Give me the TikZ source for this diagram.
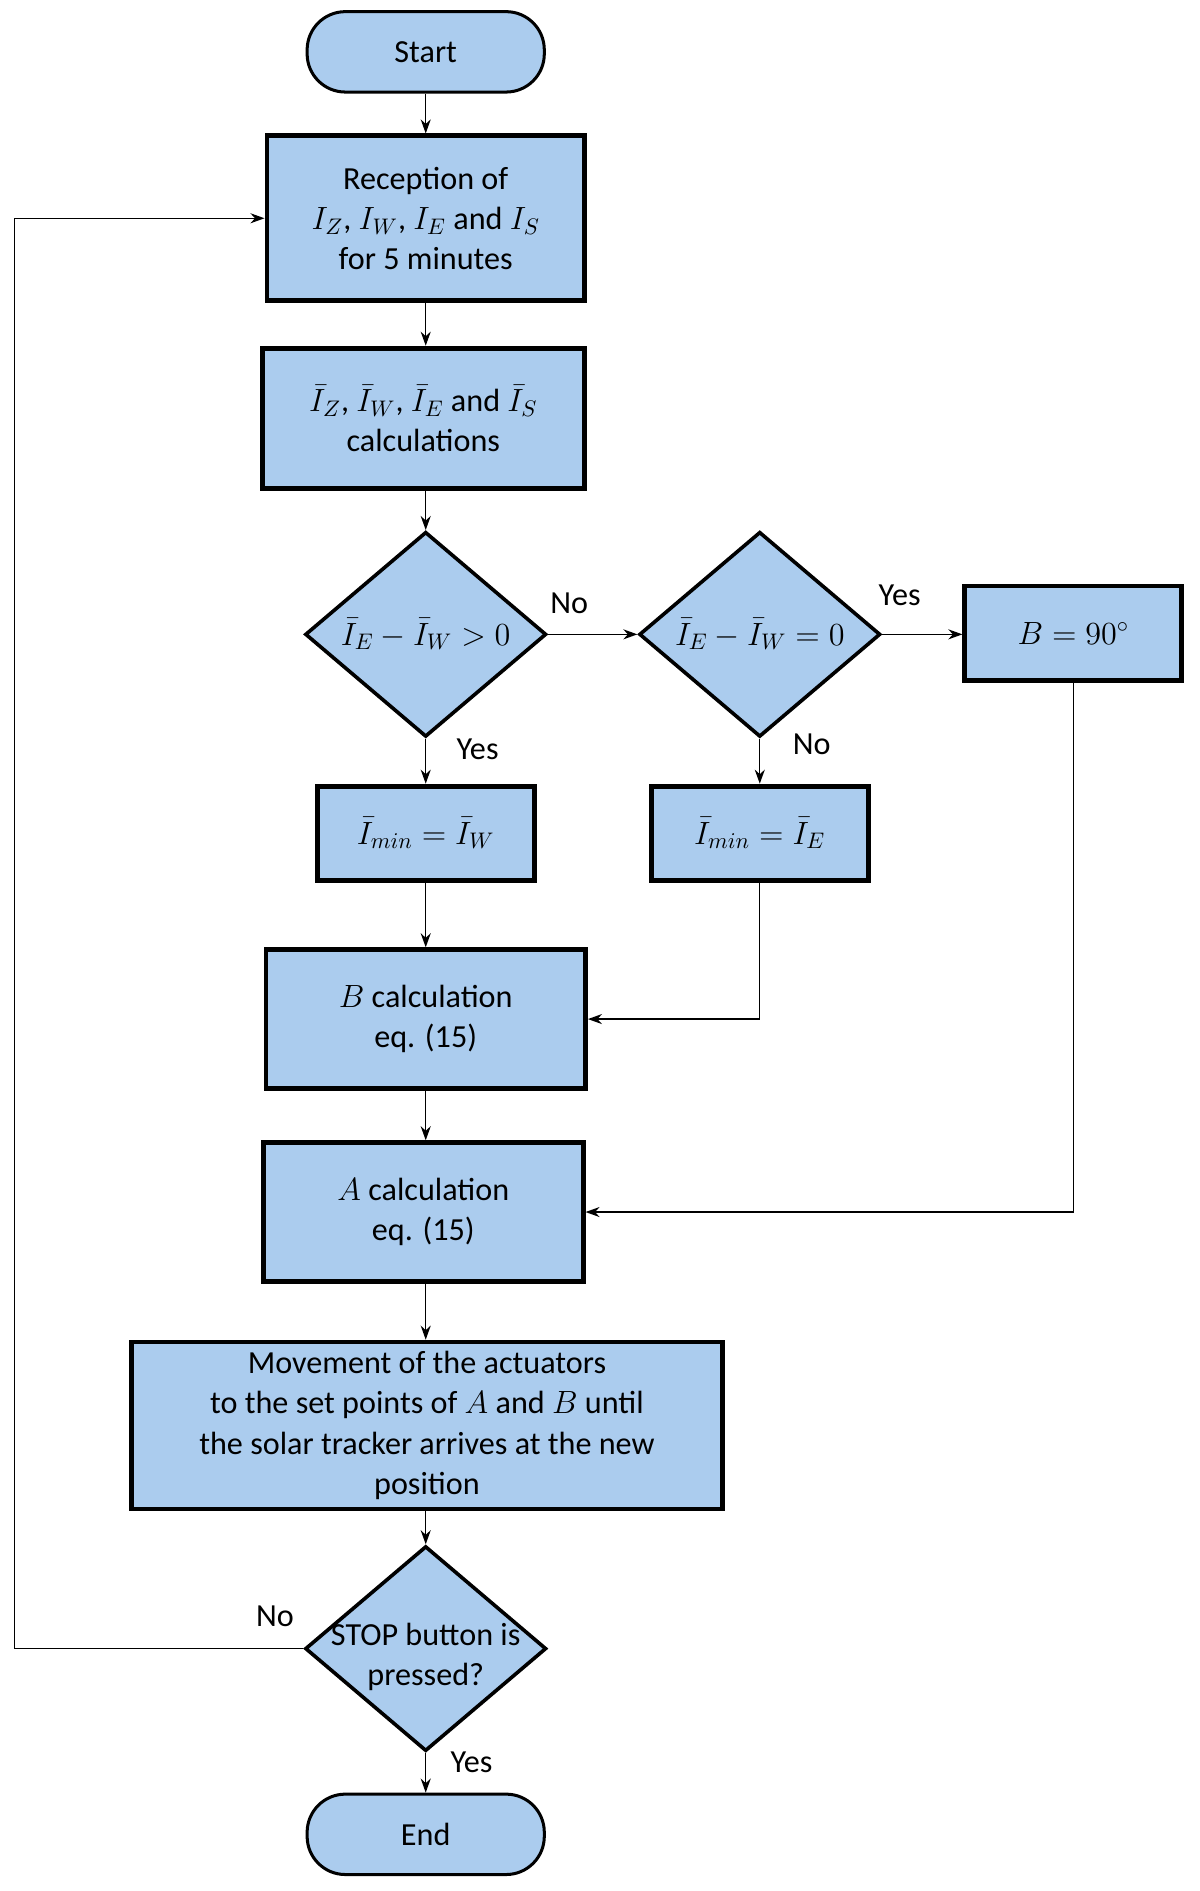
\documentclass[tikz,border=0pt]{standalone}
\usepackage{fix-cm}
\usepackage[no-math]{fontspec}
\setmainfont{Carlito}
\usetikzlibrary{shapes.geometric,arrows.meta}
\definecolor{boxblue}{RGB}{171,204,238}
\begin{document}
\begin{tikzpicture}[x=0.6pt,y=-0.6pt,
  font=\fontsize{16}{20}\selectfont,
  term/.style={draw, line width=1.5pt, fill=boxblue, rounded corners=19pt, minimum width=118pt, minimum height=40pt, inner sep=0pt},
  proc/.style={draw, line width=2.4pt, fill=boxblue, align=center, inner sep=0pt},
  dec/.style={draw, diamond, line width=1.8pt, fill=boxblue, minimum width=120pt, minimum height=102pt, inner sep=0pt},
  conn/.style={-{Stealth[length=7pt,width=5pt]}, line width=0.7pt},
  lbl/.style={inner sep=0pt}]
\useasboundingbox (0,0) rectangle (995,1568);

\node[term] (start) at (353,43) {Start};
\node[proc, minimum width=158pt, minimum height=82pt] (rec) at (353,181)
  {Reception of\\ $I_Z$, $I_W$, $I_E$ and $I_S$\\ for 5 minutes};
\node[proc, minimum width=160pt, minimum height=70pt] (bar) at (351,347)
  {$\bar{I}_Z$, $\bar{I}_W$, $\bar{I}_E$ and $\bar{I}_S$\\ calculations};
\node[dec] (d1) at (353,526) {};
\node at (d1) {$\bar{I}_E-\bar{I}_W>0$};
\node[dec] (d2) at (630,526) {};
\node at (d2) {$\bar{I}_E-\bar{I}_W=0$};
\node[proc, minimum width=108pt, minimum height=47pt] (b90) at (890,525) {$B=90^\circ$};
\node[proc, minimum width=108pt, minimum height=47pt] (iw) at (353,691) {$\bar{I}_{min}=\bar{I}_W$};
\node[proc, minimum width=108pt, minimum height=47pt] (ie) at (630,691) {$\bar{I}_{min}=\bar{I}_E$};
\node[proc, minimum width=159pt, minimum height=69pt] (bc) at (353,845) {$B$ calculation\\ eq. (15)};
\node[proc, minimum width=159pt, minimum height=69pt] (ac) at (351,1005) {$A$ calculation\\ eq. (15)};
\node[proc, minimum width=294pt, minimum height=83pt] (mov) at (354,1182)
  {Movement of the actuators\\ to the set points of $A$ and $B$ until\\ the solar tracker arrives at the new\\ position};
\node[dec] (stop) at (353,1367) {};
\node[align=center] at (353,1374) {STOP button is\\ pressed?};
\node[term] (end) at (353,1521) {End};

\draw[conn] (start.south) -- (start.south |- rec.north);
\draw[conn] (rec.south) -- (rec.south |- bar.north);
\draw[conn] (d1.north |- bar.south) -- (d1.north);
\draw[conn] (d1.east) -- (d2.west);
\draw[conn] (d2.east) -- (d2.east -| b90.west);
\draw[conn] (d1.south) -- (iw.north);
\draw[conn] (d2.south) -- (ie.north);
\draw[conn] (iw.south) -- (bc.north);
\draw[conn] (ie.south) |- (bc.east);
\draw[conn] (bc.south) -- (bc.south |- ac.north);
\draw[conn] (b90.south) |- (ac.east);
\draw[conn] (ac.south -| bc.south) -- (mov.north -| bc.south);
\draw[conn] (mov.south -| stop.north) -- (stop.north);
\draw[conn] (stop.south) -- (end.north);
\coordinate (lp) at (12,1367);
\draw[conn] (stop.west) -- (lp) |- (rec.west);

\node[lbl] at (472,500) {No};
\node[lbl] at (746,494) {Yes};
\node[lbl] at (396,621) {Yes};
\node[lbl] at (673,617) {No};
\node[lbl] at (228,1340) {No};
\node[lbl] at (391,1461) {Yes};
\end{tikzpicture}
\end{document}
